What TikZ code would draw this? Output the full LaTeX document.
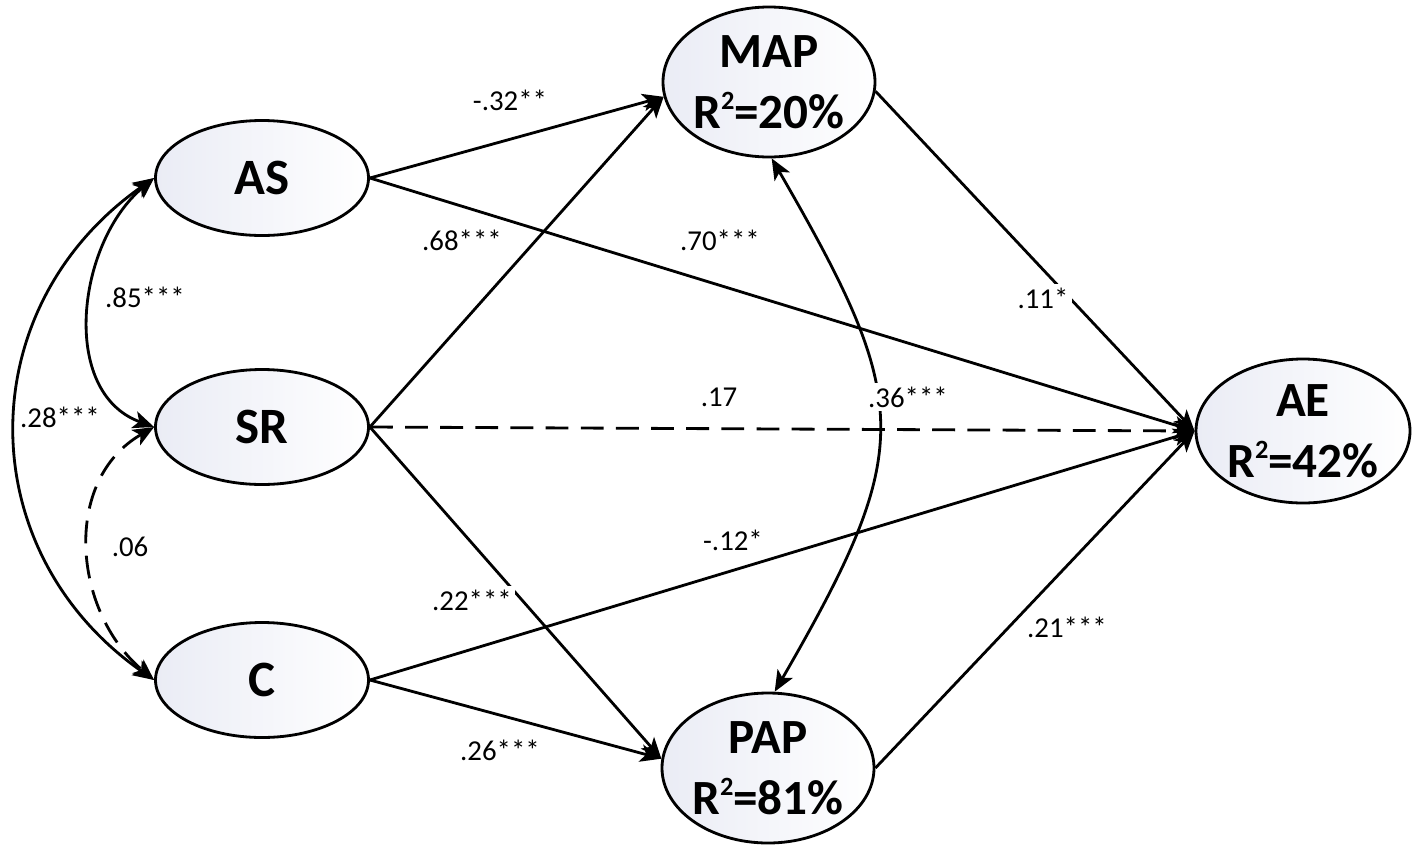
\documentclass[tikz,border=0pt]{standalone}
\usepackage{fontspec}
\setmainfont{Carlito}
\usetikzlibrary{shapes.geometric,arrows.meta}
\definecolor{lav}{RGB}{234,236,245}

\newcommand{\rsq}{R\raisebox{0.8ex}{\fontsize{7.5}{7.5}\selectfont 2}}

\begin{document}
\begin{tikzpicture}[
  line width=0.8pt,
  latent/.style = {draw, ellipse, inner sep=-3pt, align=center,
    left color=lav, right color=white},
  exo/.style = {latent, minimum width=2.13cm, minimum height=1.15cm,
    font=\fontsize{14.5}{18}\selectfont\bfseries},
  endo/.style = {latent, minimum width=2.12cm, minimum height=1.50cm,
    font=\fontsize{14}{17.5}\selectfont\bfseries},
  coef/.style = {font=\fontsize{8.2}{9}\selectfont, inner sep=1pt, fill=white},
  reg/.style = {-{Stealth[length=6pt,width=5pt,inset=1.5pt]}},
  cov/.style = {{Stealth[length=6pt,width=5pt,inset=1.5pt]}-{Stealth[length=6pt,width=5pt,inset=1.5pt]}},
  ns/.style = {dash pattern=on 6.5pt off 3.5pt}
]
\useasboundingbox (0,0) rectangle (14.17,8.56);

% latent variables
\node[exo] (AS) at (2.62,6.78) {AS};
\node[exo] (SR) at (2.62,4.29) {SR};
\node[exo] (C) at (2.62,1.76) {C};
\node[endo] (MAP) at (7.69,7.74) {MAP\\\rsq=20\%};
\node[endo] (PAP) at (7.68,0.88) {PAP\\\rsq=81\%};
\node[endo, minimum width=2.14cm, minimum height=1.44cm] (AE) at (13.03,4.25) {AE\\\rsq=42\%};

% paths
\draw[reg] (AS.east) -- (MAP.188);
\draw[reg] (AS.east) -- (AE.west);
\draw[reg] (SR.east) -- (MAP.188);
\draw[reg, ns] (SR.east) -- (AE.west);
\draw[reg] (SR.east) -- (PAP.175);
\draw[reg] (C.east) -- (AE.west);
\draw[reg] (C.east) -- (PAP.175);
\draw[reg] (MAP.-5) -- (AE.west);
\draw[reg] (PAP.east) -- (AE.west);

% covariances
\draw[cov] (AS.west) to[out=220,in=160,looseness=1.04] (SR.west);
\draw[cov] (AS.west) to[out=215,in=145,looseness=1.15] (C.west);
\draw[cov, ns] (SR.west) to[out=210,in=140,looseness=1.08] (C.west);
\draw[cov] (MAP.-88) to[out=-60,in=60,looseness=1.35] (PAP.85);

% coefficients
\node[coef] (c32) at (5.10,7.56) {-.32**};
\node[coef] (c68) at (4.62,6.16) {.68***};
\node[coef] (c70) at (7.20,6.16) {.70***};
\node[coef] (c17) at (7.19,4.59) {.17};
\node[coef] (c36) at (9.08,4.59) {.36***};
\node[coef] (c12) at (7.33,3.16) {-.12*};
\node[coef] (c22) at (4.72,2.56) {.22***};
\node[coef] (c26) at (5.00,1.06) {.26***};
\node[coef] (c11) at (10.43,5.58) {.11*};
\node[coef] (c21) at (10.67,2.29) {.21***};
\node[coef] (c85) at (1.45,5.59) {.85***};
\node[coef] (c06) at (1.30,3.09) {.06};
\node[coef] (c28) at (0.60,4.39) {.28***};
\end{tikzpicture}
\end{document}
